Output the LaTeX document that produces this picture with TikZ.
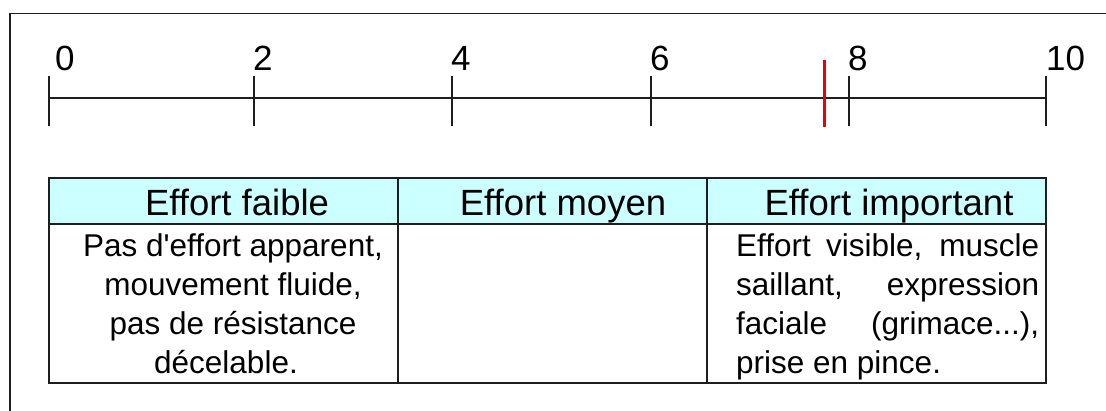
\documentclass[tikz,border=0pt]{standalone}
\usepackage{fontspec}
\setmainfont{Liberation Sans}[Ligatures=TeXOff]
\definecolor{hdr}{RGB}{204,255,255}
\definecolor{ink}{RGB}{30,30,30}
\definecolor{mark}{RGB}{240,0,0}
\begin{document}
\begin{tikzpicture}[x=1pt,y=-1pt,
  ln/.style={draw=ink,line width=1.5pt},
  cellbox/.style={ln,rectangle,inner sep=0pt,outer sep=0pt,anchor=north west},
  numlab/.style={inner sep=0pt,anchor=base west,font=\fontsize{35}{40}\selectfont,text=black},
  hdrtext/.style={inner sep=0pt,anchor=base,font=\fontsize{36.5}{40}\selectfont,text=black},
  bodytext/.style={inner sep=0pt,anchor=base,font=\fontsize{31.5}{39}\selectfont,text=black},
  bodyleft/.style={inner sep=0pt,anchor=base west,font=\fontsize{31.5}{39}\selectfont,text=black}]
\useasboundingbox (0,0) rectangle (1106,410);
\clip (0,0) rectangle (1106,410);
\fill[white] (0,0) rectangle (1106,410);
% outer frame (only top and left edges visible)
\node[ln,rectangle,inner sep=0pt,anchor=north west,minimum width=1200pt,minimum height=500pt] (frame) at (9,12.5) {};
% axis
\foreach \i/\x in {0/49,2/254,4/452,6/651,8/849,10/1046}{
  \coordinate (t\i) at (\x,98);
  \coordinate (t\i top) at (\x,76);
  \coordinate (t\i bot) at (\x,126);
  \draw[ln] (t\i top) -- (t\i bot);
}
\draw[ln] (t0) -- (t10);
% labels
\node[numlab] (l0) at (55,70) {0};
\node[numlab] (l2) at (253,70) {2};
\node[numlab] (l4) at (451,70) {4};
\node[numlab] (l6) at (650,70) {6};
\node[numlab] (l8) at (848,70) {8};
\node[numlab] (l10) at (1046,70) {10};
% red mark
\coordinate (mtop) at (824,60);
\coordinate (mbot) at (824,127);
\draw[draw=mark,line width=3pt] (mtop) -- (mbot);
% table
\node[cellbox,fill=hdr,minimum width=349pt,minimum height=46pt] (h1) at (49,178) {};
\node[cellbox,fill=hdr,minimum width=309pt,minimum height=46pt] (h2) at (398,178) {};
\node[cellbox,fill=hdr,minimum width=339pt,minimum height=46pt] (h3) at (707,178) {};
\node[cellbox,minimum width=349pt,minimum height=159pt] (b1) at (49,224) {};
\node[cellbox,minimum width=309pt,minimum height=159pt] (b2) at (398,224) {};
\node[cellbox,minimum width=339pt,minimum height=159pt] (b3) at (707,224) {};
% header texts
\node[hdrtext] (ht1) at (237,215) {Effort faible};
\node[hdrtext] (ht2) at (563,215) {Effort moyen};
\node[hdrtext] (ht3) at (889,215) {Effort important};
% left body
\node[bodytext] (a1) at (233,256) {Pas d'effort apparent,};
\node[bodytext] (a2) at (233,295) {mouvement fluide,};
\node[bodytext] (a3) at (233,334) {pas de résistance};
\node[bodytext] (a4) at (226,373) {décelable.};
% right body (justified)
\node[bodyleft] (c1) at (736,256) {\makebox[303pt][s]{Effort visible, muscle}};
\node[bodyleft] (c2) at (736,295) {\makebox[303pt][s]{saillant, expression}};
\node[bodyleft] (c3) at (736,334) {\makebox[303pt][s]{faciale (grimace...),}};
\node[bodyleft] (c4) at (736,373) {prise en pince.};
\end{tikzpicture}
\end{document}
